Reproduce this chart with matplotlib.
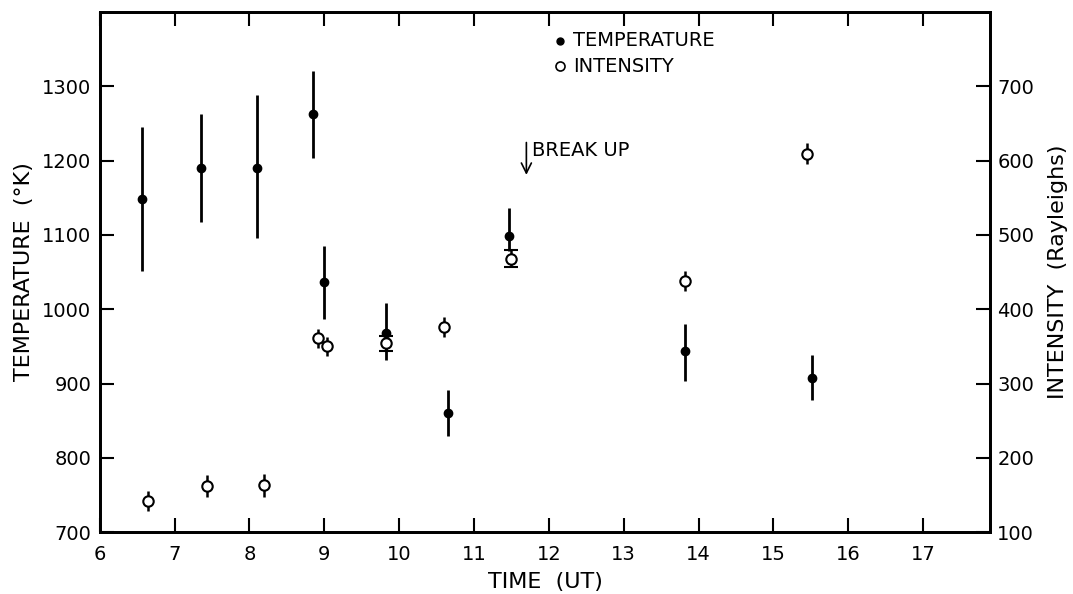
import numpy as np
import matplotlib
matplotlib.use("Agg")
import matplotlib.pyplot as plt

# temperature (filled dots), left axis
temp_time = [6.56, 7.35, 8.10, 8.85, 8.99, 9.83, 10.65, 11.47, 13.82, 15.52]
temp_val = [1148, 1190, 1190, 1262, 1037, 968, 861, 1098, 944, 908]
temp_err_lo = [97, 72, 94, 58, 50, 36, 32, 20, 40, 30]
temp_err_hi = [97, 72, 98, 58, 48, 40, 30, 38, 36, 31]

# intensity (open circles), right axis
int_time = [6.64, 7.43, 8.19, 8.92, 9.03, 9.83, 10.60, 11.49, 13.82, 15.45]
int_val = [142, 162, 163, 361, 350, 354, 376, 468, 438, 609]
int_err = [14, 15, 15, 13, 13, 10, 14, 11, 13, 14]
int_capped = [False, False, False, False, False, True, False, True, False, False]

xticks = list(range(6, 18))
temp_ticks = [700, 800, 900, 1000, 1100, 1200, 1300]
int_ticks = [100, 200, 300, 400, 500, 600, 700]

plt.rcParams["font.family"] = "DejaVu Sans"

fig = plt.figure(figsize=(10.73, 5.94), dpi=100)
ax = fig.add_axes([0.093, 0.104, 0.830, 0.876])
ax2 = ax.twinx()

ax.set_xlim(6, 17.9)
ax.set_ylim(700, 1400)
ax2.set_ylim(100, 800)

# temperature points
ax.errorbar(temp_time, temp_val, yerr=[temp_err_lo, temp_err_hi], fmt="o",
            color="black", ms=6, elinewidth=2, capsize=0, zorder=3)

# intensity points, a couple of them with caps
for t, v, e, c in zip(int_time, int_val, int_err, int_capped):
    ax2.errorbar([t], [v], yerr=[e], fmt="o", mfc="white", mec="black", mew=1.5,
                 color="black", ms=7.5, elinewidth=1.8,
                 capsize=5 if c else 0, capthick=1.8, zorder=3)

# break up arrow
ax.annotate("", xy=(11.70, 1177), xytext=(11.70, 1228),
            arrowprops=dict(arrowstyle="->", color="black", lw=1.2,
                            mutation_scale=18))
ax.text(11.78, 1214, "BREAK UP", fontsize=14, va="center", ha="left")

# hand-drawn style legend
ax.plot([12.15], [1361], "o", color="black", ms=5)
ax.plot([12.15], [1327], "o", mfc="white", mec="black", mew=1.2, ms=6.5)
ax.text(12.32, 1361, "TEMPERATURE", fontsize=14, va="center", ha="left")
ax.text(12.32, 1327, "INTENSITY", fontsize=14, va="center", ha="left")

ax.set_xticks(xticks)
ax.set_yticks(temp_ticks)
ax2.set_yticks(int_ticks)

ax.tick_params(axis="both", direction="in", length=10, width=1.5,
               labelsize=14, top=True, pad=6)
ax.tick_params(axis="x", pad=9)
ax2.tick_params(axis="y", direction="in", length=10, width=1.5,
                labelsize=14, pad=5)

for a in (ax, ax2):
    for s in a.spines.values():
        s.set_linewidth(2)

ax.set_xlabel("TIME  (UT)", fontsize=16, labelpad=6)
ax.set_ylabel("TEMPERATURE  (°K)", fontsize=16, labelpad=6)
ax2.set_ylabel("INTENSITY  (Rayleighs)", fontsize=16, labelpad=10)

fig.savefig("out.png", dpi=100)
